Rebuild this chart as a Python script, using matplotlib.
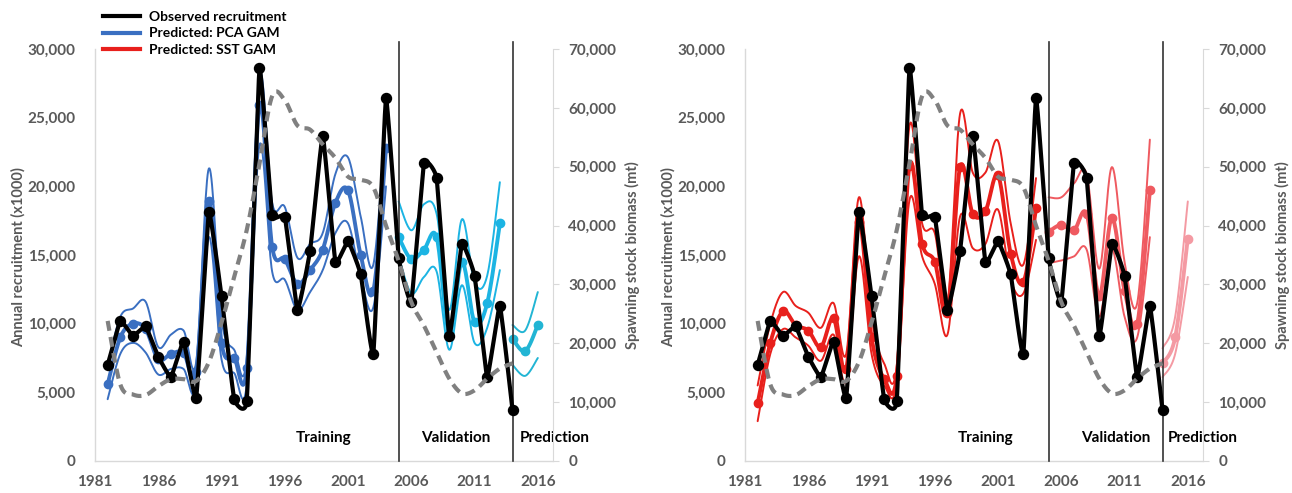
import matplotlib
matplotlib.use('Agg')
import matplotlib.pyplot as plt
from matplotlib.ticker import FuncFormatter, MultipleLocator
from matplotlib.lines import Line2D
import numpy as np

plt.rcParams['font.family'] = ['Lato', 'DejaVu Sans']
plt.rcParams['font.weight'] = 'bold'

# ---- data ----
years_obs = list(range(1982, 2015))
years_train = list(range(1982, 2005))
years_val = list(range(2005, 2014))
years_pred = [2014, 2015, 2016]

observed = [7000, 10200, 9100, 9800, 7600, 6100, 8700, 4600, 18100, 12000, 4500, 4400,
            28600, 17900, 17800, 11000, 15300, 23700, 14500, 16000, 13600, 7800, 26400,
            14800, 11600, 21700, 20600, 9100, 15800, 13500, 6100, 11300, 3700]
ssb = [23800, 13000, 11300, 11200, 12700, 13900, 13900, 13600, 16800, 23500, 31300, 39300,
       50500, 62000, 61300, 57000, 56300, 53800, 51500, 48300, 47800, 46500, 40000, 34000,
       27000, 23000, 18500, 14000, 11500, 12000, 14000, 15700, 16600]

# PCA GAM
pca_mean = [5600, 9000, 10000, 9600, 7400, 7800, 7900, 6500, 18900, 8600, 7500, 6800,
            25900, 15600, 14700, 12900, 13900, 15400, 18800, 19700, 15000, 12400, 22800]
pca_upper = [6900, 10500, 11100, 11600, 8300, 9200, 9500, 7200, 21300, 10300, 8100, 7600,
             28000, 18800, 18500, 14800, 15800, 16600, 20900, 22100, 17800, 14300, 25100]
pca_lower = [4500, 7800, 8600, 7900, 6300, 6700, 6700, 5300, 16300, 7400, 6400, 5600,
             23000, 13800, 13200, 11000, 12300, 13900, 16600, 17300, 13400, 11200, 20000]
pca_val_mean = [16300, 14700, 15400, 16300, 9300, 14500, 10100, 11500, 17300]
pca_val_upper = [18900, 16800, 18700, 18000, 11000, 17600, 13000, 13500, 20300]
pca_val_lower = [14900, 12200, 13400, 13800, 8100, 12800, 8600, 9700, 13900]
pca_pred_mean = [8900, 8000, 9900]
pca_pred_upper = [9900, 9500, 12300]
pca_pred_lower = [7000, 6200, 7500]

# SST GAM
sst_mean = [4200, 8600, 10900, 9900, 9500, 8300, 10400, 6700, 17400, 9000, 6000, 6200,
            21500, 15800, 14500, 10800, 21400, 18000, 18200, 20800, 15100, 13000, 18400]
sst_upper = [5500, 10000, 12300, 11300, 10800, 9700, 11500, 7800, 19200, 10500, 7100, 7000,
             24400, 17300, 16600, 11500, 25300, 21000, 21000, 23300, 17300, 14300, 20600]
sst_lower = [2900, 7800, 9600, 9000, 8400, 7300, 9200, 5800, 14900, 7800, 5500, 5700,
             19000, 14900, 12900, 9200, 17800, 15500, 15800, 18300, 13200, 12200, 16100]
sst_val_mean = [16700, 17200, 16800, 18000, 12000, 17700, 12400, 10000, 19700]
sst_val_upper = [19200, 19200, 20200, 20900, 14000, 21400, 14500, 11500, 23400]
sst_val_lower = [14400, 14600, 14900, 15400, 10500, 15400, 10500, 9000, 16300]
sst_pred_mean = [7100, 9000, 16200]
sst_pred_upper = [8200, 10500, 18900]
sst_pred_lower = [6100, 7800, 13400]

period_labels = ['Training', 'Validation', 'Prediction']
year_ticks = [1981, 1986, 1991, 1996, 2001, 2006, 2011, 2016]

GREY_TXT = '#595959'
AXIS_C = '#d9d9d9'


def smooth(x, y, n=20, k=6.0):
    # Excel style smoothed line: bezier through the points (k sets the tension)
    x = np.asarray(x, float)
    y = np.asarray(y, float)
    if len(x) < 3:
        return x, y
    px = np.concatenate([[x[0]], x, [x[-1]]])
    py = np.concatenate([[y[0]], y, [y[-1]]])
    t = np.linspace(0, 1, n, endpoint=False)[:, None]
    xs, ys = [], []
    for i in range(1, len(px) - 2):
        p0 = np.array([px[i - 1], py[i - 1]])
        p1 = np.array([px[i], py[i]])
        p2 = np.array([px[i + 1], py[i + 1]])
        p3 = np.array([px[i + 2], py[i + 2]])
        c1 = p1 + (p2 - p0) / k
        c2 = p2 - (p3 - p1) / k
        b = ((1 - t) ** 3) * p1 + 3 * ((1 - t) ** 2) * t * c1 + 3 * (1 - t) * t ** 2 * c2 + t ** 3 * p2
        xs.append(b[:, 0])
        ys.append(b[:, 1])
    xs.append([x[-1]])
    ys.append([y[-1]])
    return np.concatenate(xs), np.concatenate(ys)


def line(ax, x, y, color, lw, marker=False, ms=6, z=3, k=6.0):
    sx, sy = smooth(x, y, k=k)
    ax.plot(sx, sy, color=color, lw=lw, zorder=z, solid_capstyle='round',
            solid_joinstyle='round')
    if marker:
        ax.plot(x, y, 'o', color=color, ms=ms, zorder=z, mec=color)


def fmt(v, pos):
    return '{:,.0f}'.format(v)


def panel(ax, sets, colors, text_x):
    ax.set_xlim(1981, 2017.2)
    ax.set_ylim(0, 30000)
    for (yrs, m, u, l), c in zip(sets, colors):
        line(ax, yrs, u, c, 1.4, z=2)
        line(ax, yrs, l, c, 1.4, z=2)
        line(ax, yrs, m, c, 2.8, marker=True, ms=6, z=3)
    line(ax, years_obs, observed, 'black', 3.0, marker=True, ms=7.2, z=5, k=20.0)

    for yr in [2005, 2014]:
        ax.plot([yr, yr], [0, 30500], color='#333333', lw=1.2, clip_on=False, zorder=4)

    for lab, tx in zip(period_labels, text_x):
        ax.text(tx, 1670, lab, ha='center', va='center', fontsize=11,
                fontweight='bold', color='black', clip_on=False)

    ax.set_xticks(year_ticks)
    ax.yaxis.set_major_locator(MultipleLocator(5000))
    ax.yaxis.set_major_formatter(FuncFormatter(fmt))
    ax.tick_params(axis='both', length=0, labelsize=11, labelcolor=GREY_TXT)
    ax.tick_params(axis='y', pad=14)
    ax.tick_params(axis='x', pad=10)
    for s in ['top', 'right']:
        ax.spines[s].set_visible(False)
    for s in ['left', 'bottom']:
        ax.spines[s].set_color(AXIS_C)
        ax.spines[s].set_linewidth(1.0)

    ax2 = ax.twinx()
    ax2.set_ylim(0, 70000)
    sx, sy = smooth(years_obs, ssb)
    ax2.plot(sx, sy, color='#808080', lw=3.0, dashes=(2.4, 1.5))
    ax2.yaxis.set_major_locator(MultipleLocator(10000))
    ax2.yaxis.set_major_formatter(FuncFormatter(fmt))
    ax2.tick_params(axis='y', length=4, color=AXIS_C, labelsize=11, labelcolor=GREY_TXT, pad=7)
    for s in ['top', 'left', 'bottom']:
        ax2.spines[s].set_visible(False)
    ax2.spines['right'].set_color(AXIS_C)
    return ax2


fig = plt.figure(figsize=(12.92, 4.93), dpi=100)
W, H = 1292.0, 493.0
axL = fig.add_axes([95 / W, 32 / H, 458 / W, 412 / H])
axR = fig.add_axes([745 / W, 32 / H, 458 / W, 412 / H])

panel(axL,
      [(years_train, pca_mean, pca_upper, pca_lower),
       (years_val, pca_val_mean, pca_val_upper, pca_val_lower),
       (years_pred, pca_pred_mean, pca_pred_upper, pca_pred_lower)],
      ['#3a6fc1', '#1cb4e3', '#22b5d4'],
      [1999.1, 2009.5, 2017.3])
panel(axR,
      [(years_train, sst_mean, sst_upper, sst_lower),
       (years_val, sst_val_mean, sst_val_upper, sst_val_lower),
       (years_pred, sst_pred_mean, sst_pred_upper, sst_pred_lower)],
      ['#e8201c', '#ef5a60', '#f49aa3'],
      [2000.0, 2010.3, 2017.2])

for off in [0, 650]:
    fig.text((18 + off) / W, 1 - 257 / H, 'Annual recruitment (x1000)', rotation=90,
             ha='center', va='center', fontsize=10.5, fontweight='bold', color=GREY_TXT)
    fig.text((632 + off) / W, 1 - 255 / H, 'Spawning stock biomass (mt)', rotation=90,
             ha='center', va='center', fontsize=10.5, fontweight='bold', color=GREY_TXT)

handles = [Line2D([], [], color='black', lw=3),
           Line2D([], [], color='#3a6fc1', lw=3),
           Line2D([], [], color='#e8201c', lw=3)]
fig.legend(handles, ['Observed recruitment', 'Predicted: PCA GAM', 'Predicted: SST GAM'],
           loc='upper left', bbox_to_anchor=(103 / W, 1 - 11 / H), frameon=False,
           fontsize=10, handlelength=2.65, handletextpad=0.65, labelspacing=0.32,
           borderaxespad=0, borderpad=0)

fig.savefig('out.png', dpi=100)
